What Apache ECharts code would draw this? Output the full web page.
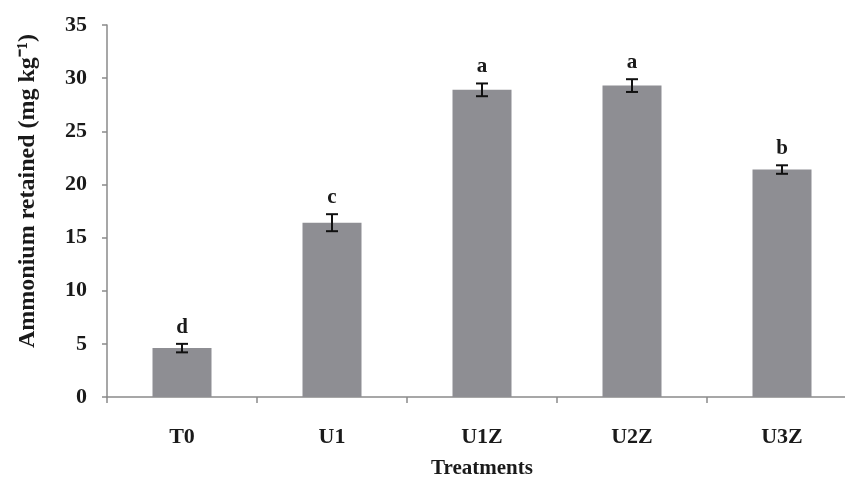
<!DOCTYPE html>
<html>
<head>
<meta charset="utf-8">
<script src="https://cdn.jsdelivr.net/npm/echarts@6/dist/echarts.min.js"></script>
<style>
  html, body { margin: 0; padding: 0; background: #fff; }
  #chart { width: 845px; height: 482px; }
</style>
</head>
<body>
<div id="chart"></div>
<script>
// Ammonium retained per treatment, with standard errors and significance groups
const categories = ['T0', 'U1', 'U1Z', 'U2Z', 'U3Z'];
const ammonium = [4.6, 16.4, 28.9, 29.3, 21.4];
const stdErr = [0.4, 0.8, 0.6, 0.6, 0.4];
const groupLetters = ['d', 'c', 'a', 'a', 'b'];
const yTicks = [0, 5, 10, 15, 20, 25, 30, 35];

const serif = '"Liberation Serif", "Times New Roman", serif';
const axisGrey = '#8a8a8a';

const chart = echarts.init(document.getElementById('chart'));

function renderErrorBar(params, api) {
  const idx = api.value(0);
  const mean = api.value(1);
  const err = api.value(2);
  const top = api.coord([idx, mean + err]);
  const bot = api.coord([idx, mean - err]);
  const half = 6;
  const lineStyle = { stroke: '#111', lineWidth: 2 };
  return {
    type: 'group',
    children: [
      { type: 'line', shape: { x1: top[0], y1: top[1], x2: bot[0], y2: bot[1] }, style: lineStyle },
      { type: 'line', shape: { x1: top[0] - half, y1: top[1], x2: top[0] + half, y2: top[1] }, style: lineStyle },
      { type: 'line', shape: { x1: bot[0] - half, y1: bot[1], x2: bot[0] + half, y2: bot[1] }, style: lineStyle },
      {
        type: 'text',
        style: {
          text: groupLetters[idx],
          x: top[0],
          y: top[1] - 6,
          textAlign: 'center',
          textVerticalAlign: 'bottom',
          font: 'bold 21px ' + serif,
          fill: '#1a1a1a'
        }
      }
    ]
  };
}

chart.setOption({
  animation: false,
  backgroundColor: '#fff',
  grid: { left: 107, right: -12, top: 25, bottom: 85, outerBoundsMode: 'none', containLabel: false },
  xAxis: {
    type: 'category',
    data: categories,
    name: 'Treatments',
    nameLocation: 'middle',
    nameGap: 61,
    nameTextStyle: { fontFamily: serif, fontWeight: 'bold', fontSize: 21, color: '#1a1a1a' },
    axisLine: { lineStyle: { color: axisGrey, width: 1.5 } },
    axisTick: { show: true, length: 6, lineStyle: { color: axisGrey, width: 1.5 } },
    axisLabel: { margin: 29, fontFamily: serif, fontWeight: 'bold', fontSize: 22, color: '#1a1a1a' }
  },
  yAxis: {
    type: 'value',
    min: yTicks[0],
    max: yTicks[yTicks.length - 1],
    interval: 5,
    splitLine: { show: false },
    axisLine: { show: true, lineStyle: { color: axisGrey, width: 1.5 } },
    axisTick: { show: true, length: 5, lineStyle: { color: axisGrey, width: 1.5 } },
    axisLabel: { margin: 20, fontFamily: serif, fontWeight: 'bold', fontSize: 22, color: '#1a1a1a' }
  },
  graphic: [{
    type: 'text',
    x: 28,
    y: 191,
    rotation: Math.PI / 2,
    style: {
      text: 'Ammonium retained (mg kg\u207B\u00B9)',
      textAlign: 'center',
      textVerticalAlign: 'middle',
      font: 'bold 24px ' + serif,
      fill: '#1a1a1a'
    }
  }],
  series: [
    {
      type: 'bar',
      data: ammonium,
      barWidth: 59,
      itemStyle: { color: '#8e8e93' }
    },
    {
      type: 'custom',
      renderItem: renderErrorBar,
      data: ammonium.map((v, i) => [i, v, stdErr[i]]),
      z: 5
    }
  ]
});
</script>
</body>
</html>
